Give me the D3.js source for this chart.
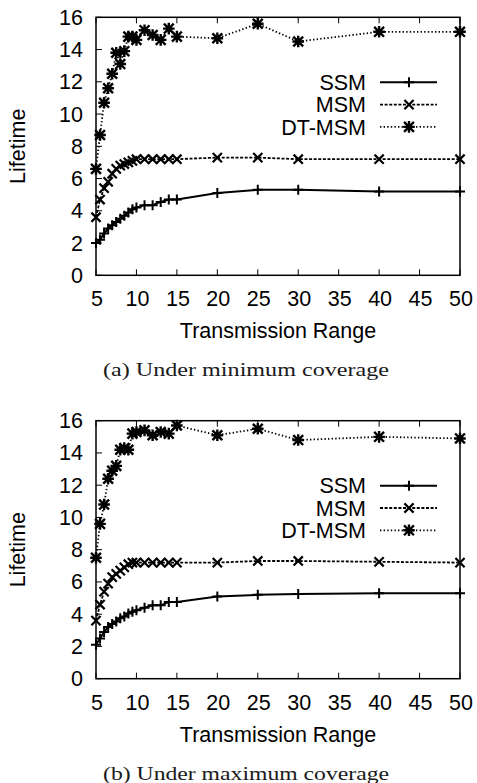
<!DOCTYPE html>
<html>
<head>
<meta charset="utf-8">
<script src="https://cdn.jsdelivr.net/npm/d3@7"></script>
<style>
  html, body { margin: 0; padding: 0; background: #fff; }
  svg { display: block; }
  .tick-label, .axis-title, .legend-label { font-family: "Liberation Sans", Arial, sans-serif; fill: #000; }
  .caption { font-family: "Liberation Serif", "DejaVu Serif", serif; fill: #1a1a1a; }
</style>
</head>
<body>
<script>
// Transmission range samples shared by both panels
const ranges = [5, 5.5, 6, 6.5, 7, 7.5, 8, 8.5, 9, 9.5, 10, 11, 12, 13, 14, 15, 20, 25, 30, 40, 50];

// (a) minimum coverage
const ssmMin = [2.0, 2.2, 2.6, 2.9, 3.1, 3.3, 3.5, 3.7, 3.9, 4.1, 4.2, 4.35, 4.35, 4.55, 4.7, 4.7, 5.1, 5.3, 5.3, 5.2, 5.2];
const msmMin = [3.6, 4.7, 5.4, 5.8, 6.3, 6.6, 6.8, 6.9, 7.0, 7.1, 7.2, 7.2, 7.2, 7.2, 7.2, 7.2, 7.3, 7.3, 7.2, 7.2, 7.2];
const dtMin  = [6.6, 8.7, 10.7, 11.6, 12.5, 13.8, 13.1, 13.9, 14.8, 14.8, 14.6, 15.2, 14.9, 14.6, 15.3, 14.8, 14.7, 15.6, 14.5, 15.1, 15.1];

// (b) maximum coverage
const ssmMax = [2.1, 2.5, 2.9, 3.2, 3.4, 3.55, 3.75, 3.85, 4.05, 4.15, 4.25, 4.4, 4.55, 4.55, 4.75, 4.75, 5.1, 5.2, 5.25, 5.3, 5.3];
const msmMax = [3.6, 4.6, 5.4, 5.9, 6.3, 6.5, 6.7, 6.9, 7.1, 7.2, 7.2, 7.2, 7.2, 7.2, 7.2, 7.2, 7.2, 7.3, 7.3, 7.25, 7.2];
const dtMax  = [7.5, 9.6, 10.8, 12.4, 12.9, 13.2, 14.2, 14.3, 14.2, 15.2, 15.3, 15.4, 15.1, 15.3, 15.2, 15.7, 15.1, 15.5, 14.8, 15.0, 14.9];

const seriesNames = ["SSM", "MSM", "DT-MSM"];
const xTicks = [5, 10, 15, 20, 25, 30, 35, 40, 45, 50];
const yTicks = [0, 2, 4, 6, 8, 10, 12, 14, 16];
const xTitle = "Transmission Range";
const yTitle = "Lifetime";
const captions = ["(a) Under minimum coverage", "(b) Under maximum coverage"];

const W = 477, H = 783;
const FS = 21.5;
const svg = d3.select("body").append("svg").attr("width", W).attr("height", H);

const plotLeft = 96, plotRight = 460, plotH = 258;
const panels = [
  { top: 17.3, data: [ssmMin, msmMin, dtMin], caption: captions[0] },
  { top: 420.7, data: [ssmMax, msmMax, dtMax], caption: captions[1] }
];

const styles = [
  { dash: null, marker: "plus" },
  { dash: "3,1.6", marker: "cross" },
  { dash: "1.4,2.2", marker: "star" }
];

function markerPath(type, s) {
  const p = d3.path();
  if (type === "plus" || type === "star") {
    p.moveTo(-s, 0); p.lineTo(s, 0);
    p.moveTo(0, -s); p.lineTo(0, s);
  }
  if (type === "cross" || type === "star") {
    const d = type === "star" ? s * 0.85 : s;
    p.moveTo(-d, -d); p.lineTo(d, d);
    p.moveTo(-d, d); p.lineTo(d, -d);
  }
  return p.toString();
}
const markerSize = { plus: 5, cross: 4.6, star: 5.8 };
const markerStroke = { plus: 2, cross: 2.2, star: 2.4 };

panels.forEach(panel => {
  const x = d3.scaleLinear().domain([5, 50]).range([plotLeft, plotRight]);
  const y = d3.scaleLinear().domain([0, 16]).range([panel.top + plotH, panel.top]);
  const g = svg.append("g");
  const bottom = panel.top + plotH;

  // inward ticks, bottom and mirrored top
  xTicks.forEach(t => {
    g.append("line").attr("x1", x(t)).attr("x2", x(t)).attr("y1", bottom).attr("y2", bottom - 6)
      .attr("stroke", "#000").attr("stroke-width", 1);
    g.append("line").attr("x1", x(t)).attr("x2", x(t)).attr("y1", panel.top).attr("y2", panel.top + 6)
      .attr("stroke", "#000").attr("stroke-width", 1);
    g.append("text").attr("class", "tick-label").attr("x", x(t) + 1).attr("y", bottom + 31)
      .attr("text-anchor", "middle").attr("font-size", FS).text(t);
  });
  yTicks.forEach(t => {
    g.append("line").attr("x1", plotLeft).attr("x2", plotLeft + 6).attr("y1", y(t)).attr("y2", y(t))
      .attr("stroke", "#000").attr("stroke-width", 1);
    g.append("text").attr("class", "tick-label").attr("x", 83).attr("y", y(t) + 7.5)
      .attr("text-anchor", "end").attr("font-size", FS).text(t);
  });

  // series lines and markers
  panel.data.forEach((vals, i) => {
    const pts = ranges.map((r, k) => [r, vals[k]]);
    const line = d3.line().x(d => x(d[0])).y(d => y(d[1]));
    g.append("path").attr("d", line(pts)).attr("fill", "none").attr("stroke", "#000")
      .attr("stroke-width", i === 0 ? 2 : 1.8)
      .attr("stroke-dasharray", styles[i].dash);
    const m = styles[i].marker;
    g.selectAll(null).data(pts).enter().append("path")
      .attr("transform", d => `translate(${x(d[0])},${y(d[1])})`)
      .attr("d", markerPath(m, markerSize[m]))
      .attr("fill", "none").attr("stroke", "#000").attr("stroke-width", markerStroke[m]);
  });

  // frame
  g.append("rect").attr("x", plotLeft).attr("y", panel.top).attr("width", plotRight - plotLeft)
    .attr("height", plotH).attr("fill", "none").attr("stroke", "#000").attr("stroke-width", 1.5);

  // legend
  const legY0 = panel.top + 65;
  seriesNames.forEach((name, i) => {
    const ly = legY0 + i * 22.3;
    const m = styles[i].marker;
    g.append("text").attr("class", "legend-label").attr("x", 366).attr("y", ly + 7.7)
      .attr("text-anchor", "end").attr("font-size", FS).text(name);
    g.append("line").attr("x1", 380).attr("x2", 437).attr("y1", ly).attr("y2", ly)
      .attr("stroke", "#000").attr("stroke-width", i === 0 ? 2 : 1.8)
      .attr("stroke-dasharray", styles[i].dash);
    g.append("path").attr("transform", `translate(409,${ly})`)
      .attr("d", markerPath(m, markerSize[m]))
      .attr("fill", "none").attr("stroke", "#000").attr("stroke-width", markerStroke[m]);
  });

  // axis titles
  g.append("text").attr("class", "axis-title").attr("x", (plotLeft + plotRight) / 2).attr("y", bottom + 63)
    .attr("text-anchor", "middle").attr("font-size", FS).text(xTitle);
  g.append("text").attr("class", "axis-title")
    .attr("transform", `translate(25,${panel.top + plotH / 2}) rotate(-90)`)
    .attr("text-anchor", "middle").attr("font-size", FS).text(yTitle);

  // caption
  g.append("text").attr("class", "caption").attr("x", 246).attr("y", bottom + 101)
    .attr("text-anchor", "middle").attr("font-size", 19)
    .attr("textLength", 286).attr("lengthAdjust", "spacingAndGlyphs")
    .text(panel.caption);
});
</script>
</body>
</html>
